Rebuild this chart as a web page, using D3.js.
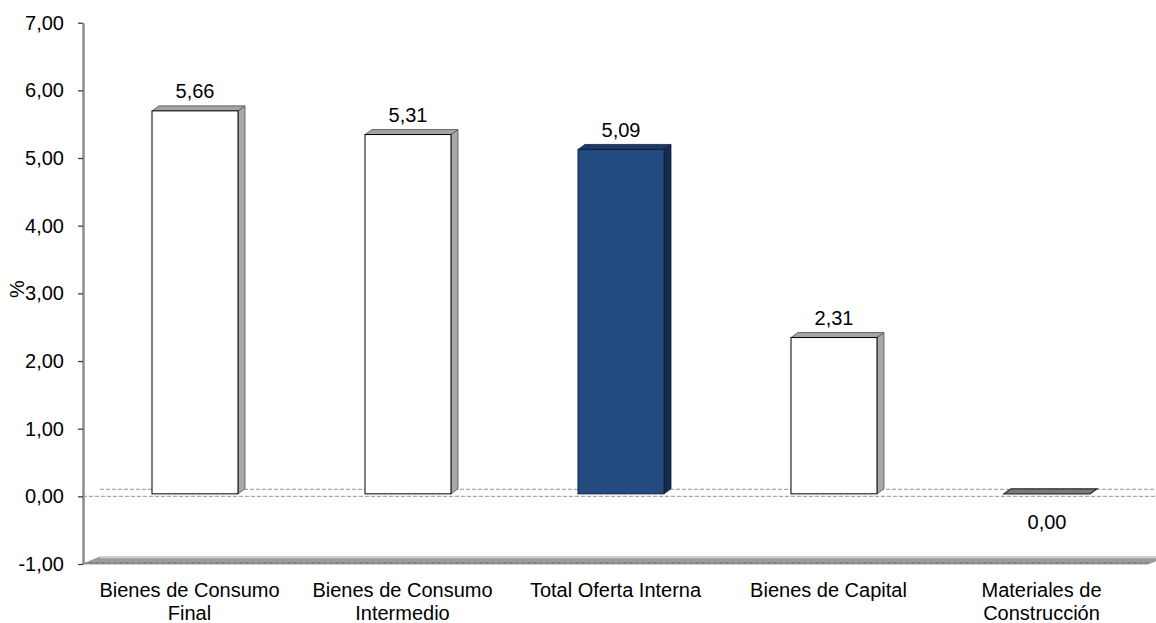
<!DOCTYPE html>
<html>
<head>
<meta charset="utf-8">
<script src="https://cdnjs.cloudflare.com/ajax/libs/d3/7.8.5/d3.min.js"></script>
<style>
  html, body { margin: 0; padding: 0; background: #fff; }
  svg { display: block; }
  text { font-family: "Liberation Sans", Arial, sans-serif; fill: #000; }
</style>
</head>
<body>
<svg id="chart" width="1156" height="623"></svg>
<script>
// ---- data ----
const categories = [
  ["Bienes de Consumo", "Final"],
  ["Bienes de Consumo", "Intermedio"],
  ["Total Oferta Interna"],
  ["Bienes de Capital"],
  ["Materiales de", "Construcción"]
];
const values = [5.66, 5.31, 5.09, 2.31, 0.00];
const highlight = [false, false, true, false, false];
const tickValues = [-1, 0, 1, 2, 3, 4, 5, 6, 7];
const yTitle = "%";

// ---- setup ----
const svg = d3.select("#chart");
const locale = d3.formatLocale({ decimal: ",", thousands: ".", grouping: [3], currency: ["", ""], minus: "-" });
const fmt = locale.format(".2f");

const x = d3.scaleBand().domain(d3.range(categories.length)).range([83, 1148]).padding(0);
const y = d3.scaleLinear().domain([-1, 7]).range([564, 22.7]);

const floorDx = 17, floorDy = -7;
const barDx = 7, barDy = -5;
const barW = 86, barOff = 69, barShiftY = -2.5;

// back wall zero line
svg.append("line")
  .attr("x1", 83 + floorDx).attr("x2", 1156)
  .attr("y1", y(0) + floorDy).attr("y2", y(0) + floorDy)
  .attr("stroke", "#a8a8a8").attr("stroke-width", 1.2).attr("stroke-dasharray", "4,2");
// front zero line
svg.append("line")
  .attr("x1", 83).attr("x2", 1156)
  .attr("y1", y(0)).attr("y2", y(0))
  .attr("stroke", "#a8a8a8").attr("stroke-width", 1.2).attr("stroke-dasharray", "4,2");

// floor
const fy = y(-1);
const xr = x.range()[1];
svg.append("polygon")
  .attr("points", [[83, fy], [xr, fy], [xr + floorDx, fy + floorDy], [83 + floorDx, fy + floorDy]].map(p => p.join(",")).join(" "))
  .attr("fill", "#9c9c9c").attr("stroke", "#8a8a8a").attr("stroke-width", 0.8);
svg.append("line")
  .attr("x1", 83 + floorDx).attr("x2", 1156)
  .attr("y1", fy + floorDy + 0.5).attr("y2", fy + floorDy + 0.5)
  .attr("stroke", "#cfcfcf").attr("stroke-width", 1.5);
svg.append("line")
  .attr("x1", 83).attr("x2", xr)
  .attr("y1", fy - 1).attr("y2", fy - 1)
  .attr("stroke", "#6e6e6e").attr("stroke-width", 1.2).attr("stroke-dasharray", "4,2");

// bars
const bars = svg.append("g");
values.forEach((v, i) => {
  const xl = x(i) + barOff, xrr = xl + barW;
  const top = y(v) + barShiftY, bot = y(0) + barShiftY;
  const hi = highlight[i];
  const c = hi
    ? { front: "#244b80", fs: "#0e2140", side: "#152c4f", top: "#1d3a66", ss: "#0e2140" }
    : { front: "#ffffff", fs: "#000000", side: "#a8a8a8", top: "#a4a4a4", ss: "#505050" };
  const g = bars.append("g");
  if (v === 0) {
    g.append("polygon")
      .attr("points", [[xl, top], [xl + barDx, top + barDy], [xrr + barDx, top + barDy], [xrr, top]].map(p => p.join(",")).join(" "))
      .attr("fill", "#7a7a7a").attr("stroke", "#2e2e2e").attr("stroke-width", 1.2);
  } else {
    g.append("polygon")
      .attr("points", [[xrr, top], [xrr + barDx, top + barDy], [xrr + barDx, bot + barDy], [xrr, bot]].map(p => p.join(",")).join(" "))
      .attr("fill", c.side).attr("stroke", c.ss).attr("stroke-width", 0.8);
    g.append("polygon")
      .attr("points", [[xl, top], [xl + barDx, top + barDy], [xrr + barDx, top + barDy], [xrr, top]].map(p => p.join(",")).join(" "))
      .attr("fill", c.top).attr("stroke", c.ss).attr("stroke-width", 0.8);
    g.append("rect")
      .attr("x", xl).attr("y", top).attr("width", barW).attr("height", bot - top)
      .attr("fill", c.front).attr("stroke", c.fs).attr("stroke-width", 1);
  }
  svg.append("text")
    .attr("x", xl + barW / 2)
    .attr("y", v > 0 ? y(v) - 15 : y(0) + 33)
    .attr("text-anchor", "middle")
    .style("font-size", "20px")
    .text(fmt(v));
});

// y axis
const yAxis = d3.axisLeft(y).tickValues(tickValues).tickSize(5).tickSizeOuter(0).tickPadding(14).tickFormat(fmt);
const ag = svg.append("g").attr("transform", "translate(83,0)").call(yAxis);
ag.select(".domain").attr("stroke", "#8c8c8c").attr("stroke-width", 2.5);
ag.selectAll(".tick line").attr("stroke", "#333").attr("stroke-width", 1.2);
ag.selectAll(".tick text").style("font-size", "20px").style("font-family", "'Liberation Sans', Arial, sans-serif").attr("fill", "#000");

// y title
svg.append("text")
  .attr("transform", "translate(24,289) rotate(-90)")
  .attr("text-anchor", "middle")
  .style("font-size", "20px")
  .text(yTitle);

// category labels
categories.forEach((lines, i) => {
  const t = svg.append("text")
    .attr("x", x(i) + x.bandwidth() / 2)
    .attr("y", 597)
    .attr("text-anchor", "middle")
    .style("font-size", "20px");
  lines.forEach((ln, j) => {
    t.append("tspan").attr("x", x(i) + x.bandwidth() / 2).attr("dy", j === 0 ? 0 : 23).text(ln);
  });
});
</script>
</body>
</html>
